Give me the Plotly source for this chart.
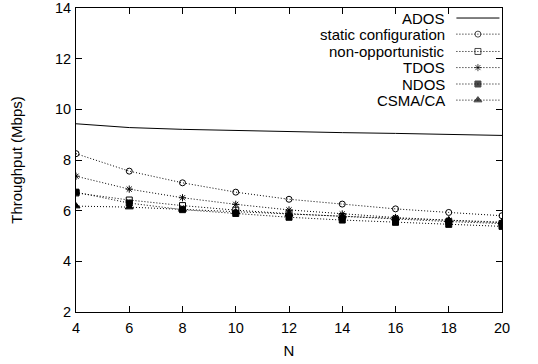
import plotly.graph_objects as go

N = [4, 6, 8, 10, 12, 14, 16, 18, 20]
ados = [9.43, 9.28, 9.21, 9.16, 9.11, 9.08, 9.05, 9.01, 8.97]
static_conf = [8.25, 7.56, 7.10, 6.73, 6.45, 6.26, 6.07, 5.93, 5.80]
non_opp = [6.70, 6.42, 6.20, 6.02, 5.88, 5.77, 5.66, 5.57, 5.49]
tdos = [7.36, 6.85, 6.51, 6.25, 6.03, 5.87, 5.73, 5.62, 5.52]
ndos = [6.73, 6.30, 6.04, 5.89, 5.74, 5.63, 5.54, 5.46, 5.38]
csma = [6.18, 6.14, 6.05, 5.95, 5.86, 5.78, 5.70, 5.63, 5.55]

names = ["ADOS", "static configuration", "non-opportunistic", "TDOS", "NDOS", "CSMA/CA"]
series = [ados, static_conf, non_opp, tdos, ndos, csma]
symbols = [None, "circle-open", "square-open", "asterisk-open", "square", "triangle-up"]
sizes = [0, 6, 6, 6, 6, 7]

FONT = "Liberation Sans, Arial, sans-serif"
DOT = "1px,2px"
fig = go.Figure()

for name, ys, sym, sz in zip(names, series, symbols, sizes):
    if sym is None:
        fig.add_trace(go.Scatter(x=N, y=ys, mode="lines", name=name, showlegend=False,
                                 line=dict(color="black", width=1)))
    else:
        fig.add_trace(go.Scatter(x=N, y=ys, mode="lines+markers", name=name, showlegend=False,
                                 line=dict(color="black", width=1, dash=DOT),
                                 marker=dict(symbol=sym, size=sz, color="black",
                                             line=dict(color="black", width=1))))

# gnuplot-style legend (text right, sample on the right) in an overlay axis
row_y = [0.967, 0.914, 0.857, 0.804, 0.750, 0.697]
for i, (name, sym, sz) in enumerate(zip(names, symbols, sizes)):
    yy = row_y[i]
    fig.add_annotation(x=0.87, y=yy, xref="x2", yref="y2", text=name, showarrow=False,
                       xanchor="right", yanchor="middle",
                       font=dict(family=FONT, size=15, color="black"))
    if sym is None:
        fig.add_trace(go.Scatter(x=[0.893, 0.994], y=[yy, yy], xaxis="x2", yaxis="y2",
                                 mode="lines", showlegend=False, hoverinfo="skip",
                                 line=dict(color="black", width=1)))
    else:
        fig.add_trace(go.Scatter(x=[0.893, 0.9435, 0.994], y=[yy, yy, yy], xaxis="x2", yaxis="y2",
                                 mode="lines+markers", showlegend=False, hoverinfo="skip",
                                 line=dict(color="black", width=1, dash=DOT),
                                 marker=dict(symbol=sym, size=[0, sz, 0], color="black",
                                             line=dict(color="black", width=1))))

axis_common = dict(showgrid=False, zeroline=False, showline=True, linecolor="black",
                   linewidth=1, mirror="allticks", ticks="inside", ticklen=6,
                   tickcolor="black", ticklabeloverflow="allow", automargin=False,
                   tickfont=dict(family=FONT, size=14.5, color="black"))

fig.update_layout(
    width=538, height=364,
    margin=dict(l=76, r=36, t=8, b=52),
    paper_bgcolor="white", plot_bgcolor="white",
    font=dict(family=FONT, size=15, color="black"),
    xaxis=dict(range=[4, 20], tickvals=[4, 6, 8, 10, 12, 14, 16, 18, 20], ticklabelstandoff=3,
               title=dict(text="N", font=dict(family=FONT, size=15), standoff=10), **axis_common),
    yaxis=dict(range=[2, 14], tickvals=[2, 4, 6, 8, 10, 12, 14], ticklabelstandoff=1,
               title=dict(text="Throughput (Mbps)", font=dict(family=FONT, size=15), standoff=28),
               **axis_common),
    xaxis2=dict(range=[0, 1], overlaying="x", visible=False, automargin=False),
    yaxis2=dict(range=[0, 1], overlaying="y", visible=False, automargin=False),
    showlegend=False,
)

fig.write_html("out.html")
